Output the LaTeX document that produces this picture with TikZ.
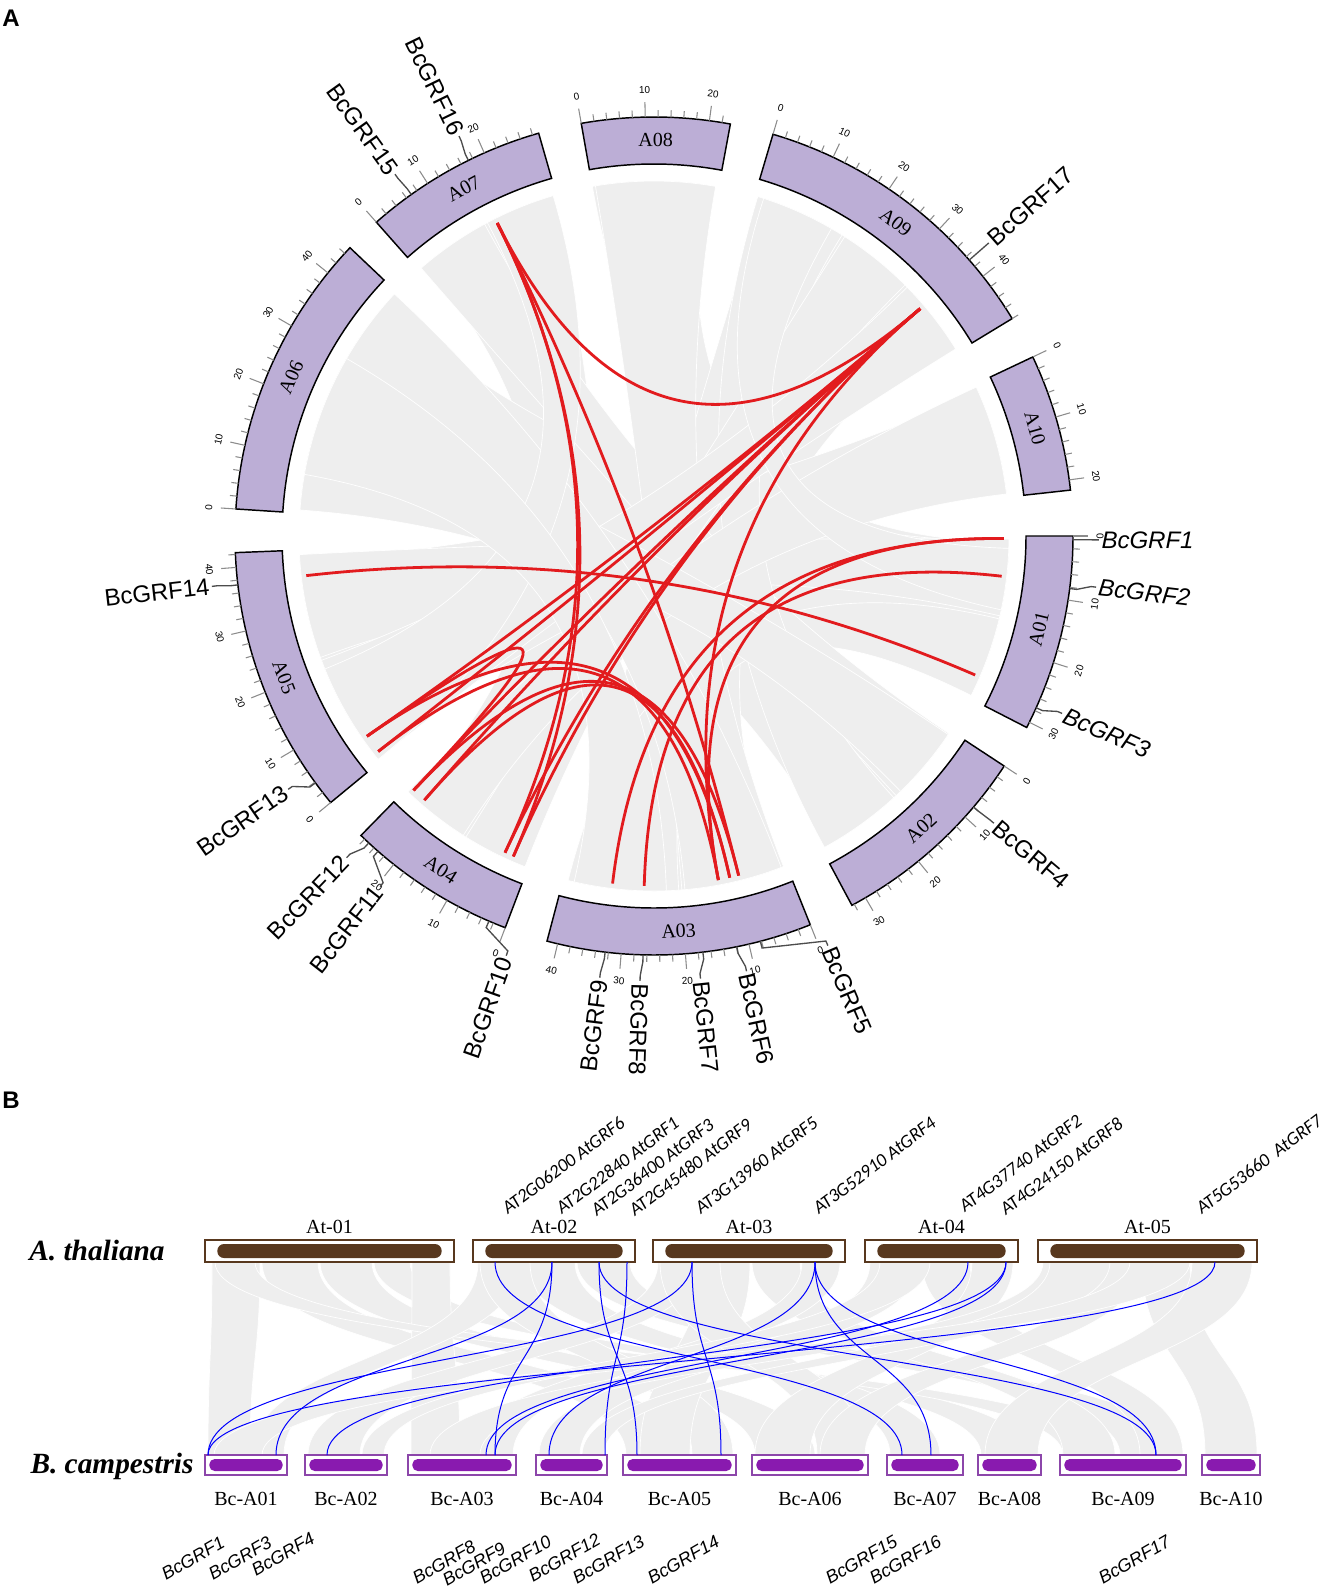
\documentclass[tikz,border=0pt]{standalone}
\usepackage{fontspec}
\setmainfont{Liberation Serif}
\setsansfont{Liberation Sans}
\newfontfamily\calibrifont{Carlito}
\usepackage{tikz}
\usetikzlibrary{calc}
\usetikzlibrary{positioning}

\definecolor{ringfill}{RGB}{188,174,214}
\definecolor{synteny}{RGB}{238,238,238}
\definecolor{linkred}{RGB}{226,27,30}
\definecolor{atbrown}{RGB}{88,56,30}
\definecolor{bcpurple}{RGB}{137,26,175}
\definecolor{bcedge}{RGB}{140,70,170}

\tikzset{
    chrom/.style={fill=ringfill, draw=black, line width=1.1pt},
    chrname/.style={font=\fontsize{15}{15}\selectfont, inner sep=0pt},
    tickmark/.style={draw=black!45, line width=0.8pt},
    ticklabel/.style={font=\sffamily\fontsize{7.5}{7.5}\selectfont, inner sep=0pt},
    genetick/.style={draw=black!70, line width=1pt},
    genename/.style={font=\sffamily\fontsize{18}{18}\selectfont, inner sep=1pt},
    ribbon/.style={fill=synteny, draw=white, line width=0.5pt},
    redlink/.style={draw=linkred, line width=2.1pt},
    bluelink/.style={draw=blue, line width=0.75pt},
    atbox/.style={draw=atbrown, fill=white, line width=1pt, minimum height=16.5pt, inner sep=0pt},
    bcbox/.style={draw=bcedge, fill=white, line width=1pt, minimum height=15pt, inner sep=0pt},
    boxlabel/.style={font=\fontsize{15}{15}\selectfont, inner sep=0pt},
    species/.style={font=\bfseries\itshape\fontsize{22}{22}\selectfont, inner sep=0pt},
    atgene/.style={font=\calibrifont\itshape\fontsize{14}{14}\selectfont, inner sep=0pt, rotate=37, anchor=base west},
    bcgene/.style={font=\sffamily\itshape\fontsize{13.5}{13.5}\selectfont, inner sep=0pt, rotate=30, anchor=base west},
    panel/.style={font=\sffamily\bfseries\fontsize{18}{18}\selectfont, inner sep=0pt}
}

\begin{document}
\begin{tikzpicture}[x=0.75pt, y=-0.75pt]
    \useasboundingbox (0,0) rectangle (1324,1593);

    % panel letters
    \node[panel] (panA) at (11,18) {A};
    \node[panel] (panB) at (11,1100) {B};

    % circos plot
    \begin{scope}[shift={(654,536)}, y=0.75pt]
        \coordinate (ctr) at (0,0);

        % synteny ribbons
        \foreach \a/\b/\c/\d in {-1/-25/100/82, -35/-60/170/140, -70/-103/72/35, -112/-133/130/108,
                -142/-176/24/7, 175/140/-1/-26,
                -0.5/-13/-160/-177, -13.5/-26.7/-86/-104, -33.8/-47/131/118.5,
                -47.5/-61.3/73/58, -68.6/-85.5/99.5/80, -111.3/-122/57.5/45, -122.5/-133.9/24.8/6.8,
                -141/-159.5/44.5/31.8, 175.8/157/-34/-46, 156.5/137/-69/-85, 118/106.5/-141/-158,
                170/150/-88/-103, 72/60/-2/-12}
            \path[ribbon] (\a:355) arc[start angle=\a, end angle=\b, radius=355]
                .. controls (\b:118) and (\c:118) .. (\c:355)
                arc[start angle=\c, end angle=\d, radius=355]
                .. controls (\d:118) and (\a:118) .. (\a:355) -- cycle;

        % chromosomes, ticks and tick labels
        \foreach \nm/\s/\len in {A01/0/30.9, A02/-33.3/32.4, A03/-68.1/41.7, A04/-110.8/26.8,
                A05/-140.5/42.3, A06/176.3/45.2, A07/131.5/29.0, A08/100/23.3, A09/73.5/48.0, A10/25.3/21.6} {
            \pgfmathsetmacro{\e}{\s-0.88*\len}
            \path[chrom] (\s:419) arc[start angle=\s, end angle=\e, radius=419]
                -- (\e:372) arc[start angle=\e, end angle=\s, radius=372] -- cycle;
            \pgfmathsetmacro{\m}{(\s+\e)/2}
            \pgfmathsetmacro{\rot}{\m<0 ? \m+90 : \m-90}
            \node[chrname, rotate=\rot] (\nm) at (\m:396) {\nm};
            \pgfmathtruncatemacro{\lmax}{\len}
            \foreach \t in {0,2,...,\lmax} {
                \pgfmathsetmacro{\ta}{\s-0.88*\t}
                \pgfmathtruncatemacro{\major}{mod(\t,10)==0 ? 1 : 0}
                \ifnum\major=1
                    \draw[tickmark] (\ta:419) -- (\ta:434);
                    \pgfmathsetmacro{\trot}{\ta<0 ? \ta+90 : \ta-90}
                    \node[ticklabel, rotate=\trot] (t\nm\t) at (\ta:446) {\t};
                \else
                    \draw[tickmark] (\ta:419) -- (\ta:426);
                \fi
            }
        }

        % gene labels round the ring
        \foreach \p/\l/\g/\sd/\sh in {-0.5/-0.5/1/0/\itshape, -7.2/-6.6/2/0/\itshape, -24.2/-23.5/3/0/\itshape,
                -40.3/-40.2/4/0/\upshape, -75.3/-67/5/0/\upshape, -78.6/-78/6/0/\upshape,
                -83.3/-84/7/0/\upshape, -91.5/-91.8/8/0/\upshape, -96.7/-97/9/1/\upshape,
                -113.2/-109.4/10/1/\upshape, -131.2/-128/11/1/\upshape, -132.9/-133.7/12/1/\upshape,
                -143.9/-145.3/13/1/\upshape, -173.3/-173.5/14/1/\upshape, 125.4/125.6/15/1/\upshape,
                116.3/116/16/1/\upshape, 41.2/41.2/17/0/\upshape} {
            \draw[genetick] (\p:419) -- (\p:426) -- (\l:440) -- (\l:445);
            \pgfmathsetmacro{\grot}{\sd==1 ? \l+180 : \l}
            \ifnum\sd=1 \def\ganc{east}\else\def\ganc{west}\fi
            \node[genename, rotate=\grot, anchor=\ganc] (grf\g) at (\l:446) {\sh BcGRF\g};
        }

        % segmental duplication links
        \foreach \nm/\a in {hub7/116.6, hub9/40.5, e1/-0.4, e2/-6.6, e3/-23.4, e14/-173.5,
                e13a/-145.1, e13b/-142, e12/-133.4, e11/-131, e10a/-115.2, e10b/-113.7,
                e9/-96.8, e8/-91.6, e6a/-79.4, e6b/-77.5, e5/-76}
            \coordinate (\nm) at (\a:350);
        \foreach \u/\v in {hub7/hub9, hub7/e5, hub7/e10a, hub7/e10b, hub9/e13a, hub9/e13b,
                hub9/e12, hub9/e11, hub9/e10a, hub9/e10b, hub9/e6a, e13a/e6b, e13b/e6a,
                e12/e5, e11/e6b, e13a/e12, e1/e9, e2/e8, e1/e6a, e14/e3}
            \draw[redlink] (\u) .. controls ($(ctr)!0.333!(\u)$) and ($(ctr)!0.333!(\v)$) .. (\v);
    \end{scope}

    % collinearity between A. thaliana and B. campestris
    \foreach \a/\b/\c/\d in {212/260/208/250, 262/318/626/690, 320/372/755/815, 374/410/981/1030,
            412/450/411/460, 215/255/1063/1110, 478/520/252/284, 522/575/890/940, 577/630/1120/1183,
            480/530/692/733, 658/700/308/360, 700/750/640/690, 752/800/1063/1115, 802/840/470/513,
            660/720/817/865, 870/920/539/580, 922/970/1140/1183, 972/1013/755/810, 880/930/362/384,
            1043/1090/430/480, 1092/1140/820/865, 1142/1190/1205/1257, 1192/1252/985/1038,
            1050/1110/582/604, 1130/1190/214/262}
        \path[ribbon] (\a,1262) -- (\b,1262) .. controls (\b,1360) and (\d,1358) .. (\d,1455)
            -- (\c,1455) .. controls (\c,1358) and (\a,1360) .. (\a,1262) -- cycle;

    % species names
    \node[species] (ath) at (97,1251) {A. thaliana};
    \node[species] (bca) at (112,1466) {B. campestris};

    % A. thaliana chromosomes
    \foreach \nm/\cx/\w in {01/329.5/249, 02/554/162, 03/749/192, 04/941.5/153, 05/1147.5/219} {
        \node[atbox, minimum width=\w*0.75pt] (at\nm) at (\cx,1251) {};
        \fill[atbrown, rounded corners=5pt] ($(at\nm.west)+(13,-7)$) rectangle ($(at\nm.east)+(-13,7)$);
        \node[boxlabel, above=4pt of at\nm] (atl\nm) {At-\nm};
    }

    % B. campestris chromosomes
    \foreach \nm/\cx/\w in {01/246/82, 02/346/82, 03/462/108, 04/571.5/71, 05/679.5/113,
            06/810/116, 07/925/76, 08/1009.5/63, 09/1123/126, 10/1231/58} {
        \node[bcbox, minimum width=\w*0.75pt] (bcA\nm) at (\cx,1465) {};
        \fill[bcpurple, rounded corners=4pt] ($(bcA\nm.west)+(5,-6)$) rectangle ($(bcA\nm.east)+(-5,6)$);
        \node[boxlabel, below=12pt of bcA\nm] (bcl\nm) {Bc-A\nm};
    }

    % orthologous gene pairs
    \foreach \nm/\x in {g6/495, g1/552, g3/599, g9/627, g5/692, g4/815, g2/968, g8/1006, g7/1215}
        \coordinate (at\nm) at (\x,1262);
    \foreach \nm/\x in {1/208, 3/276, 4/327, 8/486, 9/495, 10/549, 12/605, 13/637, 14/721,
            15/902, 16/931, 17/1156}
        \coordinate (bcg\nm) at (\x,1455);
    \foreach \u/\v in {atg6/bcg15, atg1/bcg3, atg1/bcg9, atg3/bcg17, atg3/bcg13, atg9/bcg12,
            atg5/bcg1, atg5/bcg14, atg4/bcg10, atg4/bcg16, atg4/bcg17, atg2/bcg8, atg8/bcg9,
            atg8/bcg4, atg7/bcg1}
        \draw[bluelink] (\u) .. controls +(0,100) and +(0,-100) .. (\v);

    % A. thaliana gene names
    \foreach \x/\y/\txt [count=\i] in {508/1215/AT2G06200 AtGRF6, 562/1215/AT2G22840 AtGRF1,
            597/1217/AT2G36400 AtGRF3, 635/1217/AT2G45480 AtGRF9, 701/1215/AT3G13960 AtGRF5,
            819/1215/AT3G52910 AtGRF4, 965/1213/AT4G37740 AtGRF2, 1006/1216/AT4G24150 AtGRF8,
            1202/1215/AT5G53660\ \ AtGRF7}
        \node[atgene] (atn\i) at (\x,\y) {\txt};

    % B. campestris gene names
    \foreach \g/\x/\y in {1/166/1581, 3/213/1581, 4/256/1577, 8/417/1585, 9/447/1587, 10/484/1585,
            12/533/1583, 13/577/1585, 14/652/1585, 15/830/1585, 16/874/1585, 17/1103/1585}
        \node[bcgene] (bcn\g) at (\x,\y) {BcGRF\g};
\end{tikzpicture}
\end{document}
